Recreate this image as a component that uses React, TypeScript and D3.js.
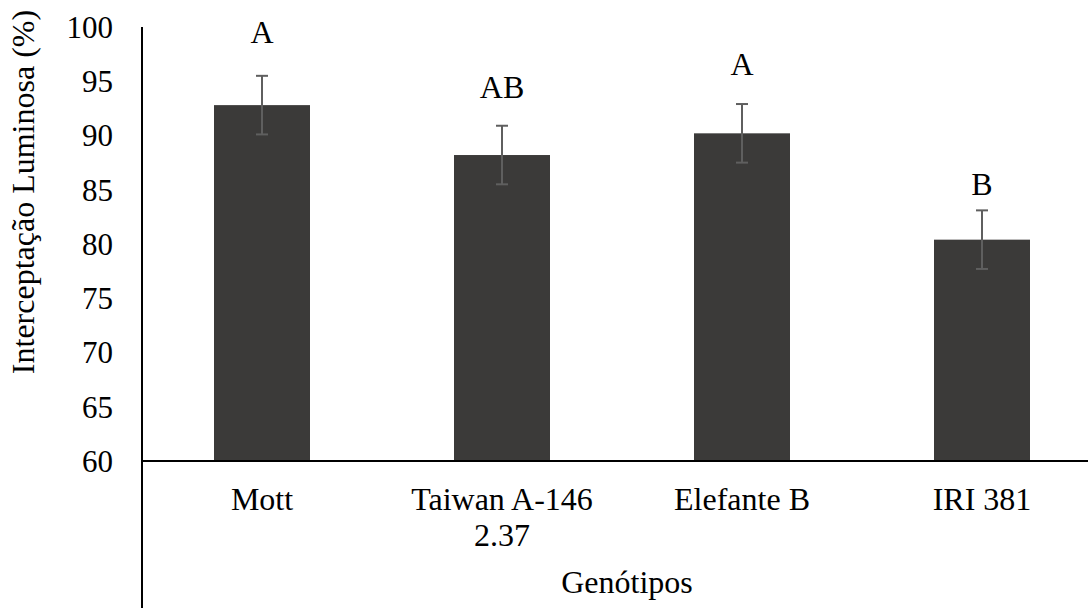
import React from 'react';
import * as d3 from 'd3';

const categories = ['Mott', 'Taiwan A-146\n2.37', 'Elefante B', 'IRI 381'];
const values = [92.8, 88.2, 90.2, 80.4];
const errors = [2.7, 2.7, 2.7, 2.7];
const letters = ['A', 'AB', 'A', 'B'];
// where each letter sits, in axis units
const letterAt = [98.5, 93.5, 95.6, 84.5];
const yTicks = [60, 65, 70, 75, 80, 85, 90, 95, 100];

const W = 1088;
const H = 608;
const FONT = "'Liberation Serif'";

const x = d3.scaleBand<string>()
    .domain(categories)
    .range([142, 1102])
    .paddingInner(0.6)
    .paddingOuter(0.3);

const y = d3.scaleLinear()
    .domain([60, 100])
    .range([461, 27]);

export default function App() {
    return (
        <svg width={W} height={H}
            style={{ position: 'absolute', left: 0, top: 0, background: '#fff' }}>
            {categories.map((c, i) => {
                const cx = x(c)! + x.bandwidth() / 2;
                const top = y(values[i] + errors[i]);
                const bot = y(values[i] - errors[i]);
                return (
                    <g key={c}>
                        <rect x={x(c)} width={x.bandwidth()} y={y(values[i])}
                            height={y(60) - y(values[i])} fill="#3b3a39" />
                        <g stroke="#5f5f5f" strokeWidth={2}>
                            <line x1={cx} x2={cx} y1={top} y2={bot} />
                            <line x1={cx - 6} x2={cx + 6} y1={top} y2={top} />
                            <line x1={cx - 6} x2={cx + 6} y1={bot} y2={bot} />
                        </g>
                        <text x={cx} y={y(letterAt[i])} textAnchor="middle"
                            fontFamily={FONT} fontSize={32}>{letters[i]}</text>
                        {c.split('\n').map((ln, j) => (
                            <text key={j} x={cx} y={510 + j * 36} textAnchor="middle"
                                fontFamily={FONT} fontSize={32}>{ln}</text>
                        ))}
                    </g>
                );
            })}

            {yTicks.map(t => (
                <text key={t} x={113} y={y(t)} dy="0.35em" textAnchor="end"
                    fontFamily={FONT} fontSize={31}>{t}</text>
            ))}

            <line x1={142} x2={142} y1={y(100)} y2={H} stroke="#000" strokeWidth={2} />
            <line x1={142} x2={W} y1={y(60)} y2={y(60)} stroke="#000" strokeWidth={2} />

            <text transform="translate(34,192) rotate(-90)" textAnchor="middle"
                fontFamily={FONT} fontSize={32}>Interceptação Luminosa (%)</text>
            <text x={627} y={593} textAnchor="middle"
                fontFamily={FONT} fontSize={32}>Genótipos</text>
        </svg>
    );
}
